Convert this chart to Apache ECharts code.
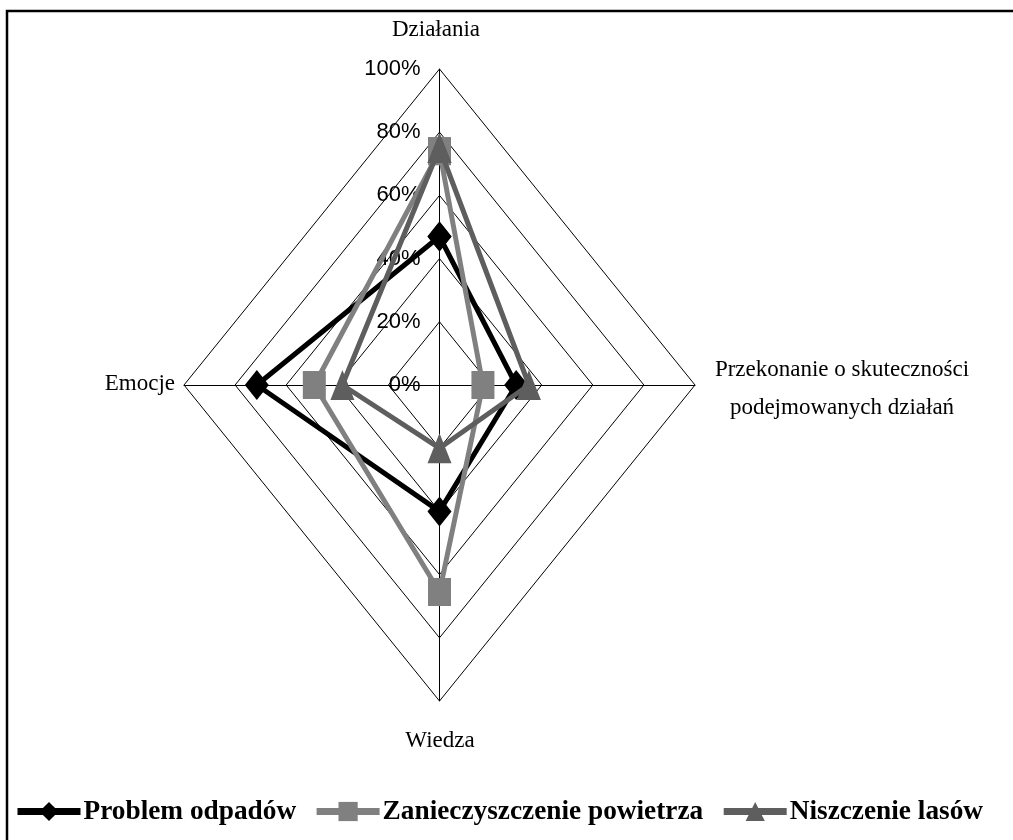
<!DOCTYPE html>
<html>
<head>
<meta charset="utf-8">
<title>Radar</title>
<script src="https://cdn.jsdelivr.net/npm/echarts@6/dist/echarts.min.js"></script>
<style>
  html, body { margin: 0; padding: 0; background: #fff; }
  #chart { width: 1013px; height: 840px; }
</style>
</head>
<body>
<div id="chart"></div>
<script>
// axes of the diamond: top, right, bottom, left
const indicators = ['Działania', 'Przekonanie o skuteczności\npodejmowanych działań', 'Wiedza', 'Emocje'];
const ringValues = [20, 40, 60, 80, 100];

const seriesNames = ['Problem odpadów', 'Zanieczyszczenie powietrza', 'Niszczenie lasów'];
// values in %, order: Działania, Przekonanie, Wiedza, Emocje
const odpady = [47, 30, 40, 71.5];
const powietrze = [74, 17, 65.5, 49];
const lasy = [75, 35, 20, 38];

const colors = ['#000000', '#808080', '#5e5e5e'];
const symbols = ['diamond', 'rect', 'triangle'];
const symbolSizes = [[24, 30], [23, 28], [24, 30]];

// top -> right -> bottom -> left -> back to top
function toPoints(v) {
    return [[0, v[0]], [v[1], 0], [0, -v[2]], [-v[3], 0], [0, v[0]]];
}

const chart = echarts.init(document.getElementById('chart'));

const ringSeries = ringValues.map(r => ({
    type: 'line',
    name: 'ring' + r,
    data: toPoints([r, r, r, r]),
    symbol: 'none',
    silent: true,
    lineStyle: { color: '#000', width: 1 },
    z: 1
}));

const dataSeries = [odpady, powietrze, lasy].map((vals, i) => ({
    type: 'line',
    name: seriesNames[i],
    data: toPoints(vals),
    symbol: symbols[i],
    symbolSize: symbolSizes[i],
    itemStyle: { color: colors[i] },
    lineStyle: { color: colors[i], width: 5 },
    z: 3 + i
}));

const serif = '"Liberation Serif", "DejaVu Serif", serif';

const option = {
    backgroundColor: '#fff',
    animation: false,
    grid: { left: 184, top: 69, width: 511, height: 632 },
    xAxis: {
        type: 'value',
        min: -100,
        max: 100,
        axisLine: { show: true, onZero: true, lineStyle: { color: '#000', width: 1 } },
        axisTick: { show: false },
        axisLabel: { show: false },
        splitLine: { show: false }
    },
    yAxis: {
        type: 'value',
        min: -100,
        max: 100,
        interval: 20,
        offset: -255.5,
        axisLine: { show: true, onZero: false, lineStyle: { color: '#000', width: 1 } },
        axisTick: { show: false },
        splitLine: { show: false },
        axisLabel: {
            margin: 19,
            color: '#000',
            fontFamily: '"Liberation Sans", Arial, sans-serif',
            fontSize: 22,
            formatter: v => (v >= 0 ? v + '%' : '')
        }
    },
    legend: {
        data: seriesNames,
        left: 9,
        top: 793,
        itemWidth: 63,
        itemHeight: 24,
        itemGap: 17,
        lineStyle: { width: 7 },
        textStyle: { color: '#000', fontFamily: serif, fontWeight: 'bold', fontSize: 27.3, padding: [0, 0, 0, -2] }
    },
    graphic: [
        { type: 'rect', silent: true, shape: { x: 7, y: 11, width: 1100, height: 900 },
          style: { fill: 'none', stroke: '#000', lineWidth: 2.5 } },
        { type: 'text', x: 436, y: 30, silent: true,
          style: { text: indicators[0], font: '23px ' + serif, fill: '#000', align: 'center', verticalAlign: 'middle' } },
        { type: 'text', x: 842, y: 389, silent: true,
          style: { text: indicators[1], font: '23px ' + serif, lineHeight: 38, fill: '#000', align: 'center', verticalAlign: 'middle' } },
        { type: 'text', x: 440, y: 741, silent: true,
          style: { text: indicators[2], font: '23px ' + serif, fill: '#000', align: 'center', verticalAlign: 'middle' } },
        { type: 'text', x: 175, y: 384, silent: true,
          style: { text: indicators[3], font: '23px ' + serif, fill: '#000', align: 'right', verticalAlign: 'middle' } }
    ],
    series: ringSeries.concat(dataSeries)
};

chart.setOption(option);
</script>
</body>
</html>
